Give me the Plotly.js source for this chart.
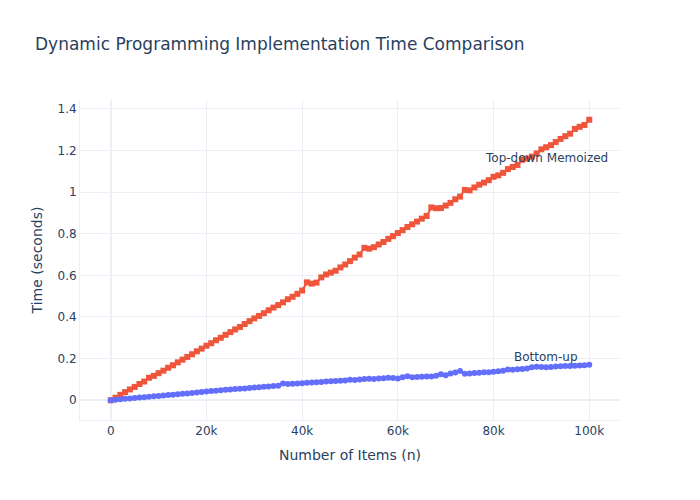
<!DOCTYPE html>
<html>
<head>
<meta charset="utf-8">
<script src="https://cdn.plot.ly/plotly-3.0.1.min.js"></script>
<style>html,body{margin:0;padding:0;background:#fff;}#chart{width:700px;height:500px;}</style>
</head>
<body>
<div id="chart"></div>
<script>
const chartTitle = "Dynamic Programming Implementation Time Comparison";
const xTitle = "Number of Items (n)";
const yTitle = "Time (seconds)";
const seriesNames = ["Top-down Memoized", "Bottom-up"];

const nItems = [0,1000,2000,3000,4000,5000,6000,7000,8000,9000,10000,11000,12000,13000,14000,15000,16000,17000,18000,19000,20000,21000,22000,23000,24000,25000,26000,27000,28000,29000,30000,31000,32000,33000,34000,35000,36000,37000,38000,39000,40000,41000,42000,43000,44000,45000,46000,47000,48000,49000,50000,51000,52000,53000,54000,55000,56000,57000,58000,59000,60000,61000,62000,63000,64000,65000,66000,67000,68000,69000,70000,71000,72000,73000,74000,75000,76000,77000,78000,79000,80000,81000,82000,83000,84000,85000,86000,87000,88000,89000,90000,91000,92000,93000,94000,95000,96000,97000,98000,99000,100000];

const topDown = [0.000,0.012,0.026,0.039,0.052,0.064,0.078,0.090,0.108,0.117,0.130,0.142,0.156,0.168,0.182,0.195,0.208,0.221,0.235,0.248,0.262,0.274,0.288,0.300,0.314,0.327,0.340,0.352,0.366,0.380,0.393,0.405,0.418,0.432,0.445,0.457,0.470,0.485,0.497,0.511,0.527,0.566,0.560,0.565,0.590,0.604,0.613,0.622,0.638,0.652,0.668,0.685,0.700,0.732,0.728,0.735,0.748,0.760,0.775,0.788,0.803,0.817,0.832,0.845,0.858,0.872,0.885,0.926,0.922,0.923,0.935,0.948,0.965,0.978,1.010,1.008,1.022,1.035,1.045,1.057,1.073,1.080,1.092,1.110,1.120,1.130,1.155,1.160,1.170,1.185,1.205,1.215,1.225,1.240,1.255,1.268,1.280,1.303,1.313,1.322,1.347];

const bottomUp = [0.000,0.003,0.005,0.007,0.009,0.011,0.013,0.015,0.017,0.019,0.021,0.023,0.025,0.027,0.029,0.031,0.033,0.035,0.037,0.040,0.042,0.044,0.046,0.048,0.050,0.052,0.054,0.055,0.057,0.059,0.061,0.063,0.065,0.066,0.068,0.070,0.080,0.078,0.079,0.080,0.082,0.084,0.085,0.087,0.088,0.090,0.091,0.092,0.094,0.095,0.098,0.097,0.100,0.102,0.103,0.102,0.104,0.106,0.108,0.107,0.104,0.110,0.115,0.111,0.112,0.113,0.114,0.114,0.118,0.125,0.120,0.128,0.133,0.141,0.127,0.129,0.131,0.132,0.134,0.135,0.137,0.139,0.142,0.148,0.147,0.149,0.150,0.153,0.158,0.161,0.160,0.158,0.160,0.162,0.163,0.164,0.165,0.166,0.167,0.168,0.170];

const labelX = [91000, 91000];
const labelY = [1.165, 0.206];

const traces = [
  {x: nItems, y: topDown, name: seriesNames[0], mode: "lines+markers", type: "scatter",
   line: {color: "#EF553B", width: 2}, marker: {color: "#EF553B", symbol: "square", size: 6}},
  {x: nItems, y: bottomUp, name: seriesNames[1], mode: "lines+markers", type: "scatter",
   line: {color: "#636efa", width: 2}, marker: {color: "#636efa", symbol: "circle", size: 6}}
];

const layout = {
  width: 700, height: 500,
  title: {text: chartTitle, x: 0.05, font: {size: 17, color: "#2a3f5f"}},
  showlegend: false,
  paper_bgcolor: "#fff", plot_bgcolor: "#fff",
  font: {family: '"DejaVu Sans", verdana, arial, sans-serif', color: "#2a3f5f", size: 12},
  margin: {l: 80, r: 80, t: 100, b: 80},
  xaxis: {title: {text: xTitle, font: {size: 14}, standoff: 12}, gridcolor: "#EBF0F8", zerolinecolor: "#EBF0F8", zerolinewidth: 2, linecolor: "#EBF0F8", ticks: ""},
  yaxis: {title: {text: yTitle, font: {size: 14}}, gridcolor: "#EBF0F8", zerolinecolor: "#EBF0F8", zerolinewidth: 2, linecolor: "#EBF0F8", ticks: ""},
  annotations: [
    {x: labelX[0], y: labelY[0], text: seriesNames[0], showarrow: false, font: {size: 12, color: "#2a3f5f"}},
    {x: labelX[1], y: labelY[1], text: seriesNames[1], showarrow: false, font: {size: 12, color: "#2a3f5f"}}
  ]
};

Plotly.newPlot("chart", traces, layout, {displayModeBar: false});
</script>
</body>
</html>
